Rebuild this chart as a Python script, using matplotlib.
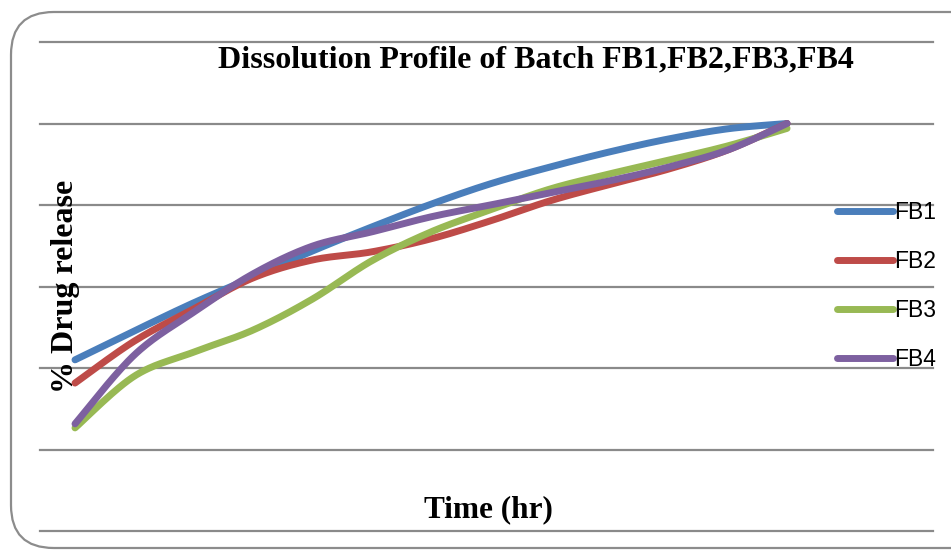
import numpy as np
import matplotlib
matplotlib.use('Agg')
import matplotlib.pyplot as plt
from matplotlib.patches import FancyBboxPatch

# time points (hr) - axis labels are not shown in the original
time_hr = [1, 2, 3, 4, 5, 6, 7, 8, 9, 10, 11, 12, 13]

fb1 = [42.0, 49.1, 56.0, 62.3, 68.7, 74.6, 80.2, 85.2, 89.3, 93.0, 96.2, 98.7, 100.0]
fb2 = [36.3, 46.6, 54.5, 62.1, 66.5, 68.5, 71.7, 76.1, 81.0, 85.0, 88.8, 93.5, 100.0]
fb3 = [25.3, 38.0, 43.9, 49.3, 56.9, 66.3, 73.4, 78.8, 83.9, 87.6, 91.0, 94.5, 98.8]
fb4 = [26.3, 43.2, 53.7, 63.1, 69.9, 73.4, 77.1, 80.0, 83.0, 85.9, 89.3, 93.5, 100.0]

labels = ['FB1', 'FB2', 'FB3', 'FB4']
colors = ['#4A7EBB', '#BE4B48', '#98B954', '#7D60A0']


def smooth(x, y, n=30):
    # Catmull-Rom style smoothing, like Excel's "smoothed line"
    x = np.asarray(x, float)
    y = np.asarray(y, float)
    px = np.concatenate([[x[0]], x, [x[-1]]])
    py = np.concatenate([[y[0]], y, [y[-1]]])
    t = np.linspace(0, 1, n)
    xs, ys = [], []
    for i in range(1, len(px) - 2):
        for p, out in ((px, xs), (py, ys)):
            p0, p1, p2, p3 = p[i - 1], p[i], p[i + 1], p[i + 2]
            c1 = p1 + (p2 - p0) / 6
            c2 = p2 - (p3 - p1) / 6
            out.append((1 - t) ** 3 * p1 + 3 * (1 - t) ** 2 * t * c1
                       + 3 * (1 - t) * t ** 2 * c2 + t ** 3 * p2)
    return np.concatenate(xs), np.concatenate(ys)


fig = plt.figure(figsize=(9.51, 5.54), dpi=100)
ax = fig.add_axes([40 / 951, 1 - 531 / 554, 893 / 951, 489 / 554])

for s, lab, c in zip([fb1, fb2, fb3, fb4], labels, colors):
    sx, sy = smooth(time_hr, s)
    ax.plot(sx, sy, color=c, lw=5, label=lab, solid_capstyle='round', zorder=3)

ax.set_xlim(0.41, 15.46)
ax.set_ylim(0, 120)
ax.set_yticks(np.arange(0, 121, 20))
ax.set_xticks([])
ax.tick_params(left=False, labelleft=False)
ax.grid(axis='y', color='#8a8a8a', lw=1.6)
for gl in ax.get_ygridlines():
    gl.set_clip_on(False)
ax.set_axisbelow(True)
for sp in ax.spines.values():
    sp.set_visible(False)

serif = ['Liberation Serif', 'DejaVu Serif']
fig.text(536 / 951, 1 - 60 / 554, 'Dissolution Profile of Batch FB1,FB2,FB3,FB4',
         ha='center', va='center', fontsize=23, fontweight='bold', family=serif)
fig.text(65 / 951, 1 - 286 / 554, '% Drug release', rotation=90,
         ha='center', va='center', fontsize=23, fontweight='bold', family=serif)
fig.text(488 / 951, 1 - 510 / 554, 'Time (hr)',
         ha='center', va='center', fontsize=22.5, fontweight='bold', family=serif)

fig.legend(loc='center left', bbox_to_anchor=(837 / 951, 1 - 286 / 554),
           frameon=False, borderpad=0, borderaxespad=0, handlelength=2.45,
           handletextpad=0.05, labelspacing=1.14,
           prop={'family': ['Liberation Sans', 'DejaVu Sans'], 'size': 16.5})

border = FancyBboxPatch((11 / 951, 1 - 548 / 554), 1.2, 536 / 554,
                        boxstyle='round,pad=0,rounding_size=0.045',
                        transform=fig.transFigure, fill=False,
                        edgecolor='#8c8c8c', lw=1.6, mutation_aspect=951 / 554)
fig.patches.append(border)

fig.savefig('out.png', dpi=100)
